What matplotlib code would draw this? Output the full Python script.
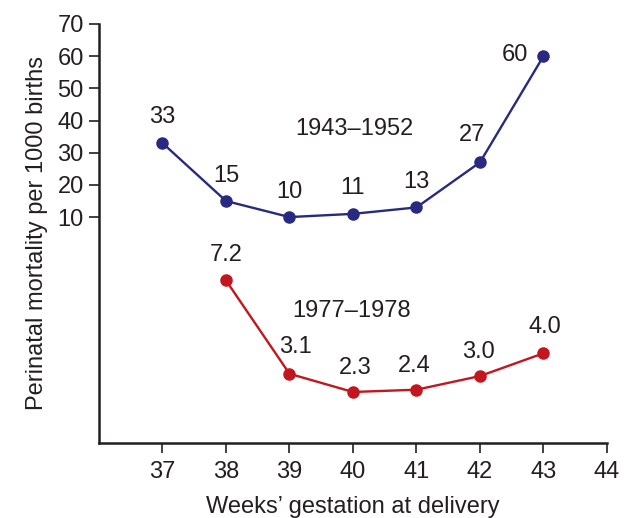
import matplotlib.pyplot as plt

plt.rcParams['font.family'] = ['Liberation Sans', 'DejaVu Sans']

# data
weeks_old = [37, 38, 39, 40, 41, 42, 43]
mortality_old = [33, 15, 10, 11, 13, 27, 60]
weeks_new = [38, 39, 40, 41, 42, 43]
mortality_new = [7.2, 3.1, 2.3, 2.4, 3.0, 4.0]
x_ticks = [37, 38, 39, 40, 41, 42, 43, 44]
y_ticks = [10, 20, 30, 40, 50, 60, 70]

BLUE = "#272a80"
RED = "#c3161f"
TXT = "#231f20"
FS = 17

# label offsets in pixels (dx, dy) relative to each point
old_offsets = [(0, 26), (0, 25), (0, 25), (0, 26), (0, 25), (-8, 27), (-29, 1)]
new_offsets = [(0, 25), (6, 27), (2, 24), (-2, 24), (-2, 24), (1, 26)]

fig = plt.figure(figsize=(6.32, 5.18), dpi=100)
ax = fig.add_axes([0.1566, 0.1448, 0.8038, 0.8089])
ax2 = ax.twinx()

ax.plot(weeks_old, mortality_old, color=BLUE, lw=1.7, marker="o", ms=8, clip_on=False)
ax2.plot(weeks_new, mortality_new, color=RED, lw=1.7, marker="o", ms=8, clip_on=False)

for x, y, (dx, dy) in zip(weeks_old, mortality_old, old_offsets):
    ax.annotate(str(y), (x, y), xytext=(dx, dy), textcoords="offset pixels",
                ha="center", va="center", fontsize=FS, color=TXT)
for x, y, (dx, dy) in zip(weeks_new, mortality_new, new_offsets):
    ax2.annotate(f"{y:.1f}", (x, y), xytext=(dx, dy), textcoords="offset pixels",
                 ha="center", va="center", fontsize=FS, color=TXT)

ax.text(40.02, 37.5, "1943\u20131952", ha="center", va="center", fontsize=FS, color=TXT)
ax2.text(39.98, 5.85, "1977\u20131978", ha="center", va="center", fontsize=FS, color=TXT)

ax.set_xlim(36, 44)
ax.set_ylim(-60.2, 70)
ax2.set_ylim(0.06, 18.46)

ax.set_xticks(x_ticks)
ax.set_yticks(y_ticks)
ax.tick_params(axis="both", direction="out", length=7, width=1.2, labelsize=FS,
               colors=TXT, pad=6)
ax.tick_params(axis="y", pad=4)

for s in ["top", "right"]:
    ax.spines[s].set_visible(False)
for s in ["left", "bottom"]:
    ax.spines[s].set_linewidth(1.8)
    ax.spines[s].set_color(TXT)
for s in ax2.spines.values():
    s.set_visible(False)
ax2.set_yticks([])

ax.set_xlabel("Weeks\u2019 gestation at delivery", fontsize=FS, color=TXT, labelpad=9)
ax.set_ylabel("Perinatal mortality per 1000 births", fontsize=FS, color=TXT, labelpad=7)

fig.savefig("out.png", dpi=100)
